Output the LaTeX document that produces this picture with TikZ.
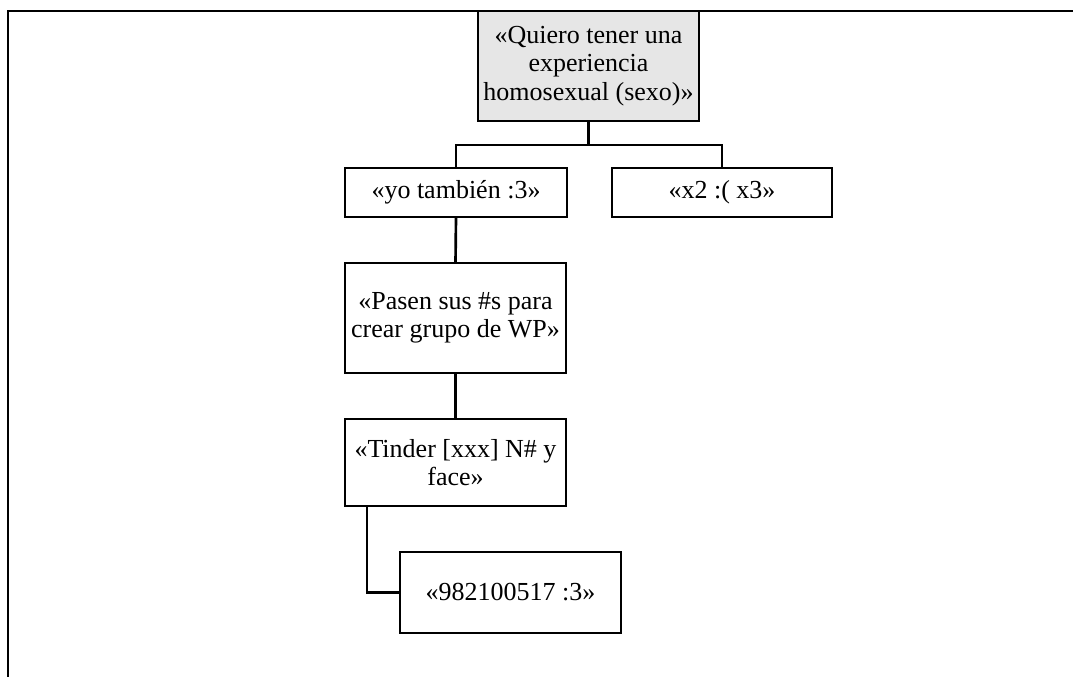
\documentclass[tikz,border=0pt]{standalone}
\usepackage{fontspec}
\setmainfont{Liberation Serif}
\begin{document}
\begin{tikzpicture}[x=0.75pt,y=-0.75pt,
  msg/.style={draw=black, line width=2pt, inner sep=0pt, outer sep=0pt,
    align=center, font=\fontsize{19.5}{21.4}\selectfont},
  link/.style={draw=black, line width=2pt}]
\useasboundingbox (0,0) rectangle (1073,677);
% outer frame: top and left edges only
\draw[line width=2pt] (1073,11) -- (8,11) -- (8,677);
% message boxes
\node[msg, fill={rgb,255:red,230;green,230;blue,230}, minimum width=165.75pt, minimum height=82.5pt] (root) at (588.5,66)
  {«Quiero tener una\\experiencia\\homosexual (sexo)»};
\node[msg, minimum width=166.5pt, minimum height=36.75pt] (tambien) at (456,192.5) {«yo también :3»};
\node[msg, minimum width=165pt, minimum height=36.75pt] (xdos) at (722,192.5) {«x2 :( x3»};
\node[msg, minimum width=165.75pt, minimum height=82.5pt] (pasen) at (455.5,318)
  {«Pasen sus \#s para\\crear grupo de WP»};
\node[msg, minimum width=165.75pt, minimum height=65.25pt] (tinder) at (455.5,462.5)
  {«Tinder [xxx] N\# y\\face»};
\node[msg, minimum width=165.75pt, minimum height=60.75pt] (numero) at (510.5,592.5) {«982100517 :3»};
% connectors
\coordinate (fork) at (588.5,145);
\draw[link] (root.south) -- (fork);
\draw[link] (fork) -| (tambien.north);
\draw[link] (fork) -| (xdos.north);
\draw[link] (tambien.south) -- (pasen.north);
\draw[link] (pasen.south) -- (tinder.north);
\draw[link] ([xshift=16.5pt]tinder.south west) |- (numero.west);
\end{tikzpicture}
\end{document}
